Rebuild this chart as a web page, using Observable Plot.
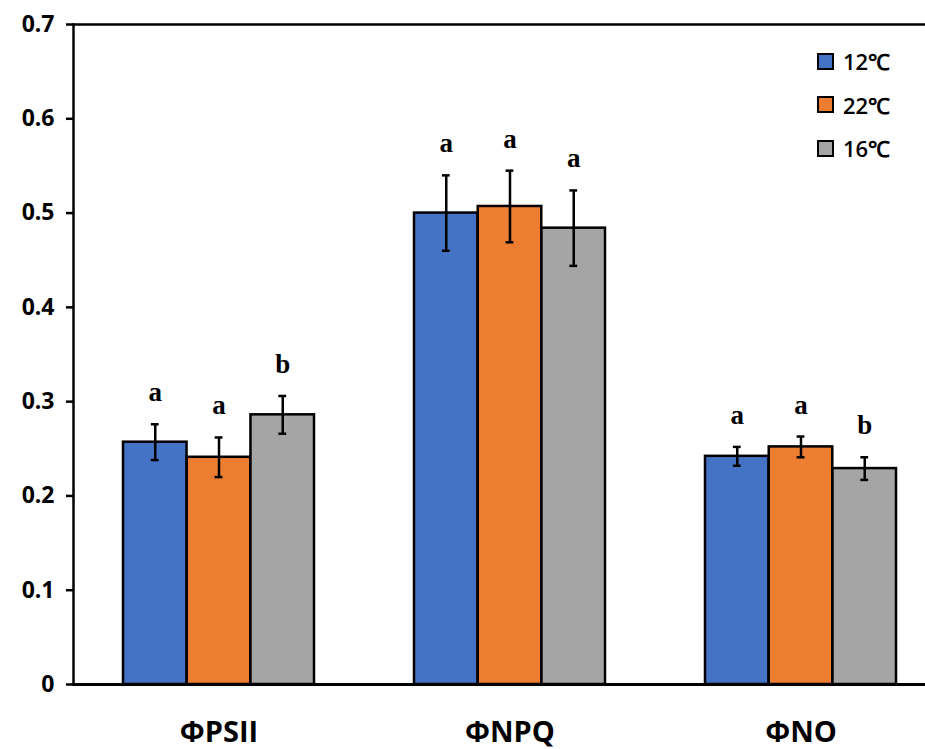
<!DOCTYPE html>
<html>
<head>
<meta charset="utf-8">
<script src="https://cdn.jsdelivr.net/npm/d3@7"></script>
<script src="https://cdn.jsdelivr.net/npm/@observablehq/plot@0.6"></script>
<style>
  html, body { margin: 0; padding: 0; background: #fff; overflow: hidden; }
  #wrap { position: relative; width: 925px; height: 749px; overflow: hidden; }
  #wrap svg { max-width: none !important; }
  #legend { position: absolute; left: 817px; top: 51px; font-family: "Open Sans", sans-serif; font-weight: 600; font-size: 22px; color: #000; }
  .row { display: flex; align-items: center; height: 20px; margin-bottom: 23.5px; }
  .sw { width: 13px; height: 13px; border: 2px solid #000; margin-right: 9px; }
</style>
</head>
<body>
<div id="wrap"><div id="legend"></div></div>
<script>
const categories = ["ΦPSII", "ΦNPQ", "ΦNO"];
const series = ["12℃", "22℃", "16℃"];
const colors = ["#4472C4", "#ED7D31", "#A5A5A5"];
const mean12 = [0.257, 0.500, 0.242];
const mean22 = [0.241, 0.507, 0.252];
const mean16 = [0.286, 0.484, 0.229];
const err12 = [0.019, 0.040, 0.010];
const err22 = [0.021, 0.038, 0.011];
const err16 = [0.020, 0.040, 0.012];
const letters12 = ["a", "a", "a"];
const letters22 = ["a", "a", "a"];
const letters16 = ["b", "a", "b"];
const yTicks = [0, 0.1, 0.2, 0.3, 0.4, 0.5, 0.6, 0.7];

const means = [mean12, mean22, mean16];
const errs = [err12, err22, err16];
const letters = [letters12, letters22, letters16];

const rows = [];
series.forEach((s, si) => categories.forEach((c, ci) => rows.push({
  category: c, series: s, si, mean: means[si][ci], err: errs[si][ci], letter: letters[si][ci]
})));

const xRange = [73, 946], pIn = 0.343, pOut = 0.1715;
const bw = d3.scaleBand().domain(categories).range(xRange).paddingInner(pIn).paddingOuter(pOut).bandwidth();
const w = bw / 3;
const cap = 4;

const marks = [];
series.forEach((s, i) => {
  const data = rows.filter(d => d.si === i);
  marks.push(Plot.barY(data, {x: "category", y: "mean", fill: "series", stroke: "#000", strokeWidth: 2.5,
    insetLeft: i * w, insetRight: (2 - i) * w}));
});
series.forEach((s, i) => {
  const data = rows.filter(d => d.si === i);
  marks.push(Plot.ruleX(data, {x: "category", y1: d => d.mean - d.err, y2: d => d.mean + d.err, dx: (i - 1) * w, stroke: "#000", strokeWidth: 2.5}));
  marks.push(Plot.tickY(data, {x: "category", y: d => d.mean + d.err, insetLeft: i * w + w / 2 - cap, insetRight: (2 - i) * w + w / 2 - cap, stroke: "#000", strokeWidth: 2.5}));
  marks.push(Plot.tickY(data, {x: "category", y: d => d.mean - d.err, insetLeft: i * w + w / 2 - cap, insetRight: (2 - i) * w + w / 2 - cap, stroke: "#000", strokeWidth: 2.5}));
  marks.push(Plot.text(data, {x: "category", y: d => d.mean + d.err, text: "letter", dx: (i - 1) * w, dy: -23, lineAnchor: "bottom",
    fontFamily: "Liberation Serif", fontWeight: "bold", fontSize: 27, fill: "#000"}));
});
marks.push(Plot.ruleY([0.7], {stroke: "#000", strokeWidth: 2.5}));
marks.push(Plot.frame({anchor: "left", stroke: "#000", strokeWidth: 2.5}));
marks.push(Plot.ruleY([0], {stroke: "#000", strokeWidth: 3}));

const chart = Plot.plot({
  width: 960,
  height: 749,
  marginLeft: 73,
  marginRight: 14,
  marginTop: 24,
  marginBottom: 65,
  style: {fontFamily: "Open Sans, sans-serif", color: "#000", background: "#fff", overflow: "visible", maxWidth: "none"},
  x: {domain: categories, range: xRange, paddingInner: pIn, paddingOuter: pOut, axis: null},
  y: {domain: [0, 0.7], axis: null},
  color: {domain: series, range: colors},
  marks: [
    ...marks,
    Plot.axisY({ticks: yTicks, tickSize: 7, tickPadding: 12, tickFormat: d => d === 0 ? "0" : d.toFixed(1),
      fontSize: 23, fontWeight: "bold", fontFamily: "Open Sans, sans-serif", strokeWidth: 2.5, label: null}),
    Plot.axisX({tickSize: 0, tickPadding: 37, fontSize: 29, fontWeight: "bold", fontFamily: "Open Sans, sans-serif", label: null})
  ]
});
document.getElementById("wrap").prepend(chart);

const legend = document.getElementById("legend");
series.forEach((s, i) => {
  const r = document.createElement("div"); r.className = "row";
  const sw = document.createElement("div"); sw.className = "sw"; sw.style.background = colors[i];
  const t = document.createElement("span"); t.textContent = s;
  r.append(sw, t); legend.append(r);
});
</script>
</body>
</html>
